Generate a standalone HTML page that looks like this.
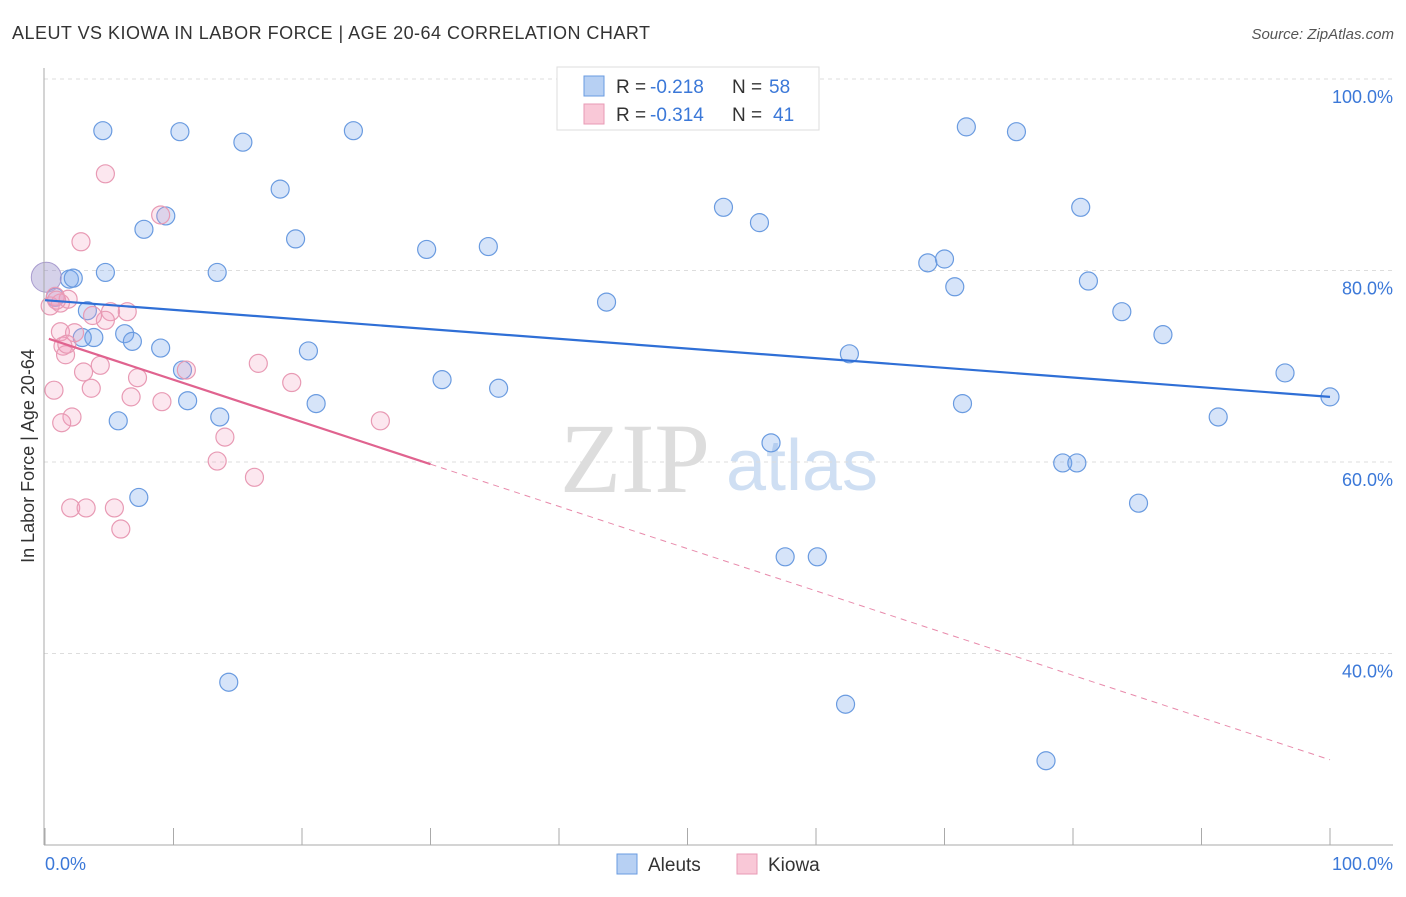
<!DOCTYPE html>
<html><head><meta charset="utf-8"><style>
body{margin:0;background:#fff;font-family:"Liberation Sans",sans-serif}
svg text{font-family:"Liberation Sans",sans-serif}
</style></head><body>
<svg width="1406" height="892" id="c">
<text x="12" y="39" font-size="18" fill="#333" textLength="638">ALEUT VS KIOWA IN LABOR FORCE | AGE 20-64 CORRELATION CHART</text>
<text x="1394" y="39" font-size="15" fill="#555" text-anchor="end" font-style="italic">Source: ZipAtlas.com</text>
<text x="34" y="456" font-size="18" fill="#333" text-anchor="middle" transform="rotate(-90 34 456)">In Labor Force | Age 20-64</text>
<g><text x="635" y="492" font-size="100" fill="#ddd" text-anchor="middle" style="font-family:'Liberation Serif',serif">ZIP</text><text x="802" y="490" font-size="72" fill="#cfdff3" text-anchor="middle">atlas</text></g>
<g id="grid"></g><g id="marks"></g>
<line x1="44" y1="68" x2="44" y2="845" stroke="#aaa"/>
<line x1="44" y1="845" x2="1393" y2="845" stroke="#aaa"/>
<text x="45" y="870" font-size="18" fill="#3b78d8">0.0%</text>
<text x="1393" y="870" font-size="18" fill="#3b78d8" text-anchor="end">100.0%</text>
<g>
<rect x="557" y="67" width="262" height="63" fill="#fff" stroke="#ddd"/>
<rect x="584" y="76" width="20" height="20" fill="#b7d0f3" stroke="#6a9be0"/>
<rect x="584" y="104" width="20" height="20" fill="#f9c8d7" stroke="#e89ab4"/>
<text x="616" y="93" font-size="19" fill="#333">R =</text>
<text x="650" y="93" font-size="19" fill="#3b78d8">-0.218</text>
<text x="732" y="93" font-size="19" fill="#333">N =</text>
<text x="769" y="93" font-size="19" fill="#3b78d8">58</text>
<text x="616" y="121" font-size="19" fill="#333">R =</text>
<text x="650" y="121" font-size="19" fill="#3b78d8">-0.314</text>
<text x="732" y="121" font-size="19" fill="#333">N =</text>
<text x="773" y="121" font-size="19" fill="#3b78d8">41</text>
</g>
<g>
<rect x="617" y="854" width="20" height="20" fill="#b7d0f3" stroke="#6a9be0"/>
<text x="648" y="871" font-size="19" fill="#333">Aleuts</text>
<rect x="737" y="854" width="20" height="20" fill="#f9c8d7" stroke="#e89ab4"/>
<text x="768" y="871" font-size="19" fill="#333">Kiowa</text>
</g>
</svg>
<script>
const yTicks=[100,80,60,40];
const xTicks=[0,10,20,30,40,50,60,70,80,90,100];
const aleutX=[4.5,10.5,15.4,24.0,18.3,7.7,9.4,19.5,29.7,34.5,4.7,13.4,1.9,2.2,43.7,3.3,6.2,6.8,3.8,2.9,9.0,20.5,10.7,11.1,21.1,30.9,35.3,13.6,5.7,7.3,14.3,52.8,55.6,62.6,56.5,57.6,60.1,62.3,71.7,75.6,68.7,70.0,70.8,71.4,80.6,81.2,83.8,87.0,79.2,80.3,85.1,77.9,96.5,91.3,100,0.8];
const aleutY=[94.6,94.5,93.4,94.6,88.5,84.3,85.7,83.3,82.2,82.5,79.8,79.8,79.1,79.2,76.7,75.8,73.4,72.6,73.0,73.0,71.9,71.6,69.6,66.4,66.1,68.6,67.7,64.7,64.3,56.3,37.0,86.6,85.0,71.3,62.0,50.1,50.1,34.7,95.0,94.5,80.8,81.2,78.3,66.1,86.6,78.9,75.7,73.3,59.9,59.9,55.7,28.8,69.3,64.7,66.8,77.2];
const kiowaX=[4.7,9.0,2.8,0.8,0.4,1.2,1.8,0.9,5.1,6.4,4.7,3.7,1.2,2.3,1.4,1.6,1.7,16.6,11.0,4.3,3.0,7.2,19.2,3.6,0.7,6.7,9.1,2.1,1.3,14.0,26.1,13.4,16.3,2.0,3.2,5.4,5.9];
const kiowaY=[90.1,85.8,83.0,77.3,76.3,76.6,77.0,76.9,75.7,75.7,74.8,75.3,73.6,73.5,72.1,71.2,72.3,70.3,69.6,70.1,69.4,68.8,68.3,67.7,67.5,66.8,66.3,64.7,64.1,62.6,64.3,60.1,58.4,55.2,55.2,55.2,53.0];
const aleutTrend=[76.9,66.8];
const kiowaTrend=[73.0,28.9];
const kiowaSolidEnd=30;
const NS="http://www.w3.org/2000/svg";
const X=v=>45+v*12.85, Y=v=>79+(100-v)*9.575;
const grid=document.getElementById('grid'), marks=document.getElementById('marks');
function mk(tag,at,parent){const e=document.createElementNS(NS,tag);for(const k in at)e.setAttribute(k,at[k]);parent.appendChild(e);return e;}
yTicks.forEach(t=>{
 const l=mk('line',{x1:44,x2:1393,y1:Y(t),y2:Y(t),stroke:'#ddd','stroke-dasharray':'4 4'},grid);
 
 
 const tx=mk('text',{x:1393,y:Y(t)+24,'font-size':18,fill:'#3b78d8','text-anchor':'end'},grid);
 tx.textContent=t.toFixed(1)+'%';
 
 
});
xTicks.forEach(t=>{
 const l=mk('line',{x1:X(t),x2:X(t),y1:828,y2:845,stroke:'#aaa'},grid);
 
 
});
aleutX.forEach((x,i)=>{
 const c=mk('circle',{cx:X(x),cy:Y(aleutY[i]),r:9,fill:'rgba(120,165,235,0.3)',stroke:'#6a9be0','stroke-width':1.2},marks);
 
 
});
const big=mk('circle',{cx:X(0.1),cy:Y(79.3),r:15,fill:'rgba(150,140,200,0.4)',stroke:'#a99ccf'},marks);


kiowaX.forEach((x,i)=>{
 const c=mk('circle',{cx:X(x),cy:Y(kiowaY[i]),r:9,fill:'rgba(245,160,190,0.25)',stroke:'#e89ab4','stroke-width':1.2},marks);
 
 
});
const at=mk('line',{x1:X(0),y1:Y(aleutTrend[0]),x2:X(100),y2:Y(aleutTrend[1]),stroke:'#2f6fd6','stroke-width':2.2},marks);


const ky=v=>kiowaTrend[0]+(kiowaTrend[1]-kiowaTrend[0])*v/100;
const ks=mk('line',{x1:X(0.3),y1:Y(ky(0.3)),x2:X(kiowaSolidEnd),y2:Y(ky(kiowaSolidEnd)),stroke:'#e0638f','stroke-width':2.2},marks);


const kd=mk('line',{x1:X(kiowaSolidEnd),y1:Y(ky(kiowaSolidEnd)),x2:X(100),y2:Y(kiowaTrend[1]),stroke:'#e88aab','stroke-width':1,'stroke-dasharray':'6 5'},marks);


</script>
</body></html>
